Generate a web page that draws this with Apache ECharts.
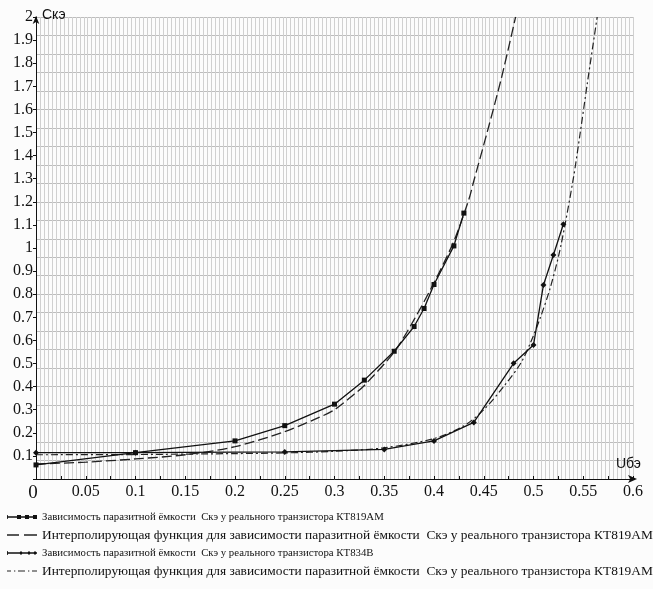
<!DOCTYPE html>
<html style="height: 100%">
<head>
    <meta charset="utf-8">
    <title>Cke</title>
    <script src="https://cdn.jsdelivr.net/npm/echarts@6/dist/echarts.min.js"></script>
    <style>
        html, body {
            margin: 0;
            padding: 0;
            height: 100%;
            background: #fcfcfc;
        }
        #main {
            width: 653px;
            height: 589px;
        }
    </style>
</head>
<body>
    <div id="main"></div>
    <script type="text/javascript">
        // КТ819АМ, измеренные точки
        var s1X = [0, 0.1, 0.2, 0.25, 0.3, 0.33, 0.36, 0.38, 0.39, 0.4, 0.42, 0.43];
        var s1Y = [0.061, 0.114, 0.165, 0.231, 0.324, 0.428, 0.553, 0.66, 0.738, 0.842, 1.009, 1.151];
        // КТ819АМ, интерполяция (штрих)
        var s2X = [0, 0.05, 0.1, 0.15, 0.2, 0.25, 0.28, 0.3, 0.32, 0.33, 0.36, 0.38, 0.4, 0.42, 0.435, 0.44, 0.454, 0.468, 0.482];
        var s2Y = [0.065, 0.073, 0.087, 0.105, 0.14, 0.205, 0.258, 0.3, 0.368, 0.405, 0.55, 0.69, 0.85, 1.03, 1.21, 1.29, 1.51, 1.74, 2.0];
        // КТ834В, измеренные точки
        var s3X = [0, 0.1, 0.25, 0.35, 0.4, 0.44, 0.48, 0.5, 0.51, 0.52, 0.53];
        var s3Y = [0.114, 0.114, 0.117, 0.128, 0.165, 0.245, 0.501, 0.58, 0.84, 0.97, 1.103];
        // интерполяция (штрих-пунктир)
        var s4X = [0, 0.1, 0.2, 0.25, 0.3, 0.35, 0.4, 0.43, 0.45, 0.47, 0.487, 0.497, 0.507, 0.517, 0.527, 0.54, 0.547, 0.554, 0.564];
        var s4Y = [0.105, 0.106, 0.11, 0.113, 0.12, 0.135, 0.175, 0.23, 0.3, 0.4, 0.5, 0.59, 0.7, 0.83, 1.0, 1.3, 1.5, 1.71, 2.0];

        var names = [
            'Зависимость паразитной ёмкости  Скэ у реального транзистора КТ819АМ',
            'Интерполирующая функция для зависимости паразитной ёмкости  Скэ у реального транзистора КТ819АМ',
            'Зависимость паразитной ёмкости  Скэ у реального транзистора КТ834В',
            'Интерполирующая функция для зависимости паразитной ёмкости  Скэ у реального транзистора КТ819АМ '
        ];

        function pairs(xs, ys) {
            var out = [];
            for (var i = 0; i < xs.length; i++) out.push([xs[i], ys[i]]);
            return out;
        }

        var chart = echarts.init(document.getElementById('main'));

        var serif = 'Liberation Serif';
        var shortText = { fontFamily: serif, fontSize: 10.8, lineHeight: 14, color: '#111' };
        var longText = { fontFamily: serif, fontSize: 13.4, lineHeight: 14, color: '#111' };

        var option = {
            backgroundColor: '#fcfcfc',
            animation: false,
            grid: {
                left: 36,
                right: 20,
                top: 17,
                bottom: 110
            },
            legend: {
                orient: 'vertical',
                left: 2,
                top: 505,
                itemWidth: 30,
                itemHeight: 8,
                itemGap: 4,
                textStyle: shortText,
                data: [
                    { name: names[0], textStyle: shortText, icon: 'path://M0,2h0.8v4h-0.8z M0,3.3h30v1.4h-30z M10,2h4v4h-4z M18,2h4v4h-4z M26,2h4v4h-4z' },
                    { name: names[1], textStyle: longText, icon: 'path://M0,3.3h12v1.4h-12z M17,3.3h13v1.4h-13z' },
                    { name: names[2], textStyle: shortText, icon: 'path://M0,2h0.8v4h-0.8z M0,3.3h30v1.4h-30z M12,4l2,-2l2,2l-2,2z M20,4l2,-2l2,2l-2,2z M26,4l2,-2l2,2l-2,2z' },
                    { name: names[3], textStyle: longText, icon: 'path://M0,3.4h4v1.2h-4z M7,3.4h1.3v1.2h-1.3z M11,3.4h7v1.2h-7z M21,3.4h1.3v1.2h-1.3z M25,3.4h5v1.2h-5z' }
                ]
            },
            xAxis: [{
                type: 'value',
                min: 0,
                max: 0.6,
                interval: 0.025,
                name: 'Uбэ',
                nameLocation: 'end',
                nameGap: 8,
                nameTextStyle: {
                    fontFamily: 'Liberation Sans',
                    fontSize: 14,
                    color: '#111',
                    align: 'right',
                    verticalAlign: 'bottom',
                    padding: [0, 0, 8, 0]
                },
                axisLine: {
                    onZero: false,
                    symbol: ['none', 'arrow'],
                    symbolSize: [6, 9],
                    symbolOffset: [0, 4],
                    lineStyle: { color: '#111', width: 1 }
                },
                axisTick: {
                    inside: true,
                    length: 3,
                    lineStyle: { color: '#111' }
                },
                axisLabel: {
                    fontFamily: serif,
                    fontSize: 16,
                    color: '#111',
                    margin: 5,
                    formatter: function (v) {
                        var k = Math.round(v * 1000);
                        if (k === 0) return '{z|0}';
                        if (k % 50 !== 0) return '';
                        return String(k / 1000);
                    },
                    rich: {
                        z: { fontFamily: serif, fontSize: 19, color: '#111', padding: [0, 6, 0, 0] }
                    }
                },
                splitLine: { show: false }
            }, {
                type: 'value',
                min: 0,
                max: 0.6,
                interval: 0.004,
                axisLine: { show: false },
                axisTick: { show: false },
                axisLabel: { show: false },
                splitLine: { show: true, lineStyle: { color: '#d0d0d0', width: 1 } }
            }],
            yAxis: [{
                type: 'value',
                min: 0,
                max: 2,
                interval: 0.1,
                name: 'Скэ',
                nameLocation: 'end',
                nameGap: 2,
                nameTextStyle: {
                    fontFamily: 'Liberation Sans',
                    fontSize: 14,
                    color: '#111',
                    align: 'left',
                    verticalAlign: 'middle',
                    padding: [0, 0, 0, 6]
                },
                axisLine: {
                    show: true,
                    onZero: false,
                    symbol: ['none', 'arrow'],
                    symbolSize: [5, 8],
                    symbolOffset: [0, 1],
                    lineStyle: { color: '#111', width: 1 }
                },
                axisTick: { show: true, length: 3, lineStyle: { color: '#111' } },
                axisLabel: {
                    fontFamily: serif,
                    fontSize: 16,
                    color: '#111',
                    margin: 3,
                    formatter: function (v) {
                        return v === 0 ? '' : String(Math.round(v * 10) / 10);
                    }
                },
                splitLine: { show: false }
            }, {
                type: 'value',
                min: 0,
                max: 2,
                interval: 0.08,
                position: 'left',
                axisLine: { show: false },
                axisTick: { show: false },
                axisLabel: { show: false },
                splitLine: { show: true, lineStyle: { color: '#bdbdbd', width: 1 } }
            }],
            series: [{
                name: names[0],
                type: 'line',
                data: pairs(s1X, s1Y),
                symbol: 'rect',
                symbolSize: 5,
                itemStyle: { color: '#111' },
                lineStyle: { color: '#111', width: 1.3 },
                z: 5
            }, {
                name: names[1],
                type: 'line',
                data: pairs(s2X, s2Y),
                smooth: 0.3,
                showSymbol: false,
                symbol: 'none',
                itemStyle: { color: '#222' },
                lineStyle: { color: '#222', width: 1.3, type: [10, 4] },
                z: 4
            }, {
                name: names[2],
                type: 'line',
                data: pairs(s3X, s3Y),
                symbol: 'diamond',
                symbolSize: 6,
                itemStyle: { color: '#111' },
                lineStyle: { color: '#111', width: 1.3 },
                z: 5
            }, {
                name: names[3],
                type: 'line',
                data: pairs(s4X, s4Y),
                smooth: 0.3,
                showSymbol: false,
                symbol: 'none',
                itemStyle: { color: '#222' },
                lineStyle: { color: '#222', width: 1.2, type: [7, 3, 2, 3] },
                z: 4
            }]
        };

        chart.setOption(option);
    </script>
</body>
</html>
